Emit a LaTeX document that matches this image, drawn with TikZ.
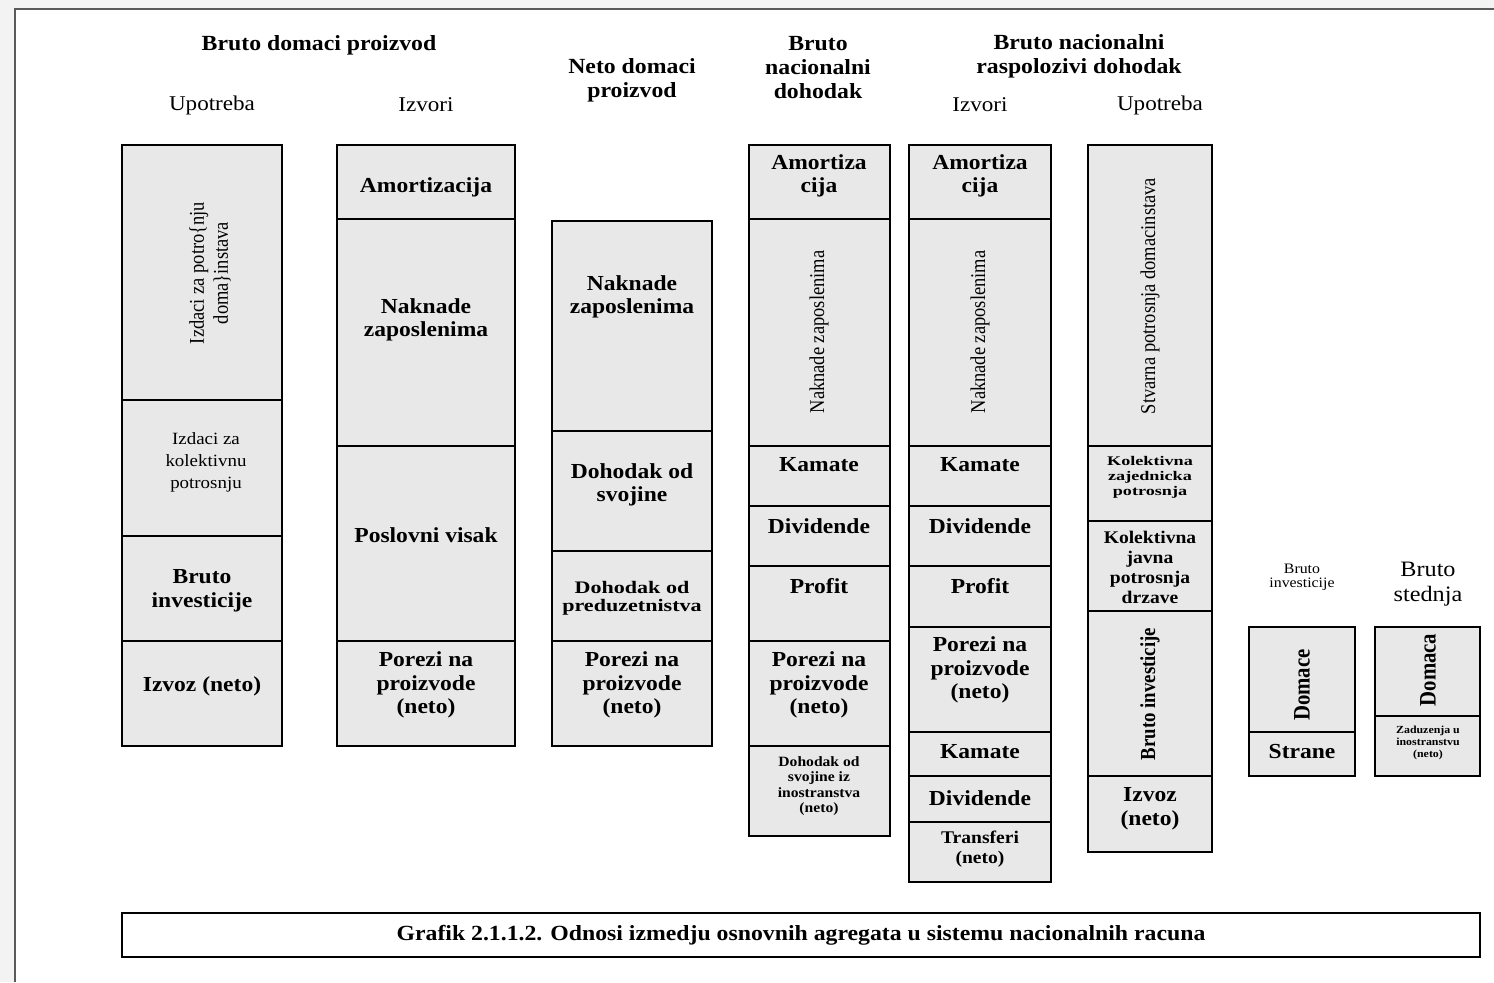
\documentclass[tikz,border=0pt]{standalone}
\usepackage{fontspec}
\setmainfont{Liberation Serif}[FakeStretch=1.1]
\newfontfamily\rotfont{Liberation Serif}[FakeStretch=0.88]
\definecolor{pagebg}{RGB}{243,243,243}
\definecolor{framec}{RGB}{90,90,90}
\definecolor{cellfill}{RGB}{232,232,232}
\tikzset{
  cellbox/.style={draw=black, fill=cellfill, line width=0.7pt, inner sep=0pt, outer sep=0pt},
  capbox/.style={draw=black, fill=white, line width=0.7pt, inner sep=0pt, outer sep=0pt},
  hdr/.style={font=\fontsize{10.8}{12}\selectfont\bfseries, align=center, inner sep=0pt},
  sub/.style={font=\fontsize{10.5}{12}\selectfont, align=center, inner sep=0pt},
  bt/.style={font=\fontsize{10.7}{11.8}\selectfont\bfseries, align=center, inner sep=0pt},
  btm/.style={font=\fontsize{8.9}{10}\selectfont\bfseries, align=center, inner sep=0pt},
  bts/.style={font=\fontsize{8.8}{9}\selectfont\bfseries, align=center, inner sep=0pt, xscale=1.14},
  btxs/.style={font=\fontsize{7.1}{7.8}\selectfont\bfseries, align=center, inner sep=0pt},
  btk/.style={font=\fontsize{6.6}{7.5}\selectfont\bfseries, align=center, inner sep=0pt, xscale=1.25},
  btxxs/.style={font=\fontsize{5.4}{6}\selectfont\bfseries, align=center, inner sep=0pt},
  rg/.style={font=\fontsize{8.6}{11}\selectfont, align=center, inner sep=0pt},
  rgs/.style={font=\fontsize{7.2}{7}\selectfont, align=center, inner sep=0pt},
  rgm/.style={font=\fontsize{11}{12.5}\selectfont, align=center, inner sep=0pt},
  rt/.style={rotate=90, font=\rotfont\fontsize{10.5}{12}\selectfont, align=center, inner sep=0pt},
  rtb/.style={rotate=90, font=\rotfont\fontsize{10.7}{12}\selectfont\bfseries, align=center, inner sep=0pt},
  rtbl/.style={rotate=90, font=\rotfont\fontsize{11.8}{12}\selectfont\bfseries, align=center, inner sep=0pt},
  capt/.style={font=\fontsize{10.8}{12}\selectfont\bfseries, inner sep=0pt}
}
\newcommand\mkbox[6][cellbox]{%
  \node[#1, minimum width={(#5-#3)*0.5pt}, minimum height={(#6-#4)*0.5pt}] (#2) at ({(#3+#5)/2},{(#4+#6)/2}) {};}
\begin{document}
\begin{tikzpicture}[x=0.5pt,y=-0.5pt]
\useasboundingbox (0,0) rectangle (1494,982);
\fill[pagebg] (0,0) rectangle (1494,982);
\fill[white] (15,9) rectangle (1494,982);
\coordinate (fa) at (15,982);
\coordinate (fb) at (15,9);
\coordinate (fc) at (1494,9);
\draw[framec, line width=1pt] (fa) -- (fb) -- (fc);

% headers
\node[hdr] (h1) at (319,45) {Bruto domaci proizvod};
\node[sub] (h1a) at (212,105) {Upotreba};
\node[sub] (h1b) at (426,105) {Izvori};
\node[hdr] (h2) at (632,80) {Neto domaci\\proizvod};
\node[hdr] (h3) at (818,68) {Bruto\\nacionalni\\dohodak};
\node[hdr] (h4) at (1079,56) {Bruto nacionalni\\raspolozivi dohodak};
\node[sub] (h4a) at (980,105) {Izvori};
\node[sub] (h4b) at (1160,105) {Upotreba};

% column 1
\mkbox{c1a}{122}{145}{282}{400}
\mkbox{c1b}{122}{400}{282}{536}
\mkbox{c1c}{122}{536}{282}{641}
\mkbox{c1d}{122}{641}{282}{746}
\node[rt] (t1a) at (210,273) {Izdaci za potro\{nju\\doma\}instava};
\node[rg] (t1b) at (206,462) {Izdaci za\\kolektivnu\\potrosnju};
\node[bt] (t1c) at (202,591) {Bruto\\investicije};
\node[bt] (t1d) at (202,686) {Izvoz (neto)};

% column 2
\mkbox{c2a}{337}{145}{515}{219}
\mkbox{c2b}{337}{219}{515}{446}
\mkbox{c2c}{337}{446}{515}{641}
\mkbox{c2d}{337}{641}{515}{746}
\node[bt] (t2a) at (426,187) {Amortizacija};
\node[bt] (t2b) at (426,320) {Naknade\\zaposlenima};
\node[bt] (t2c) at (426,535) {Poslovni visak};
\node[bt] (t2d) at (426,685) {Porezi na\\proizvode\\(neto)};

% column 3
\mkbox{c3a}{552}{221}{712}{431}
\mkbox{c3b}{552}{431}{712}{551}
\mkbox{c3c}{552}{551}{712}{641}
\mkbox{c3d}{552}{641}{712}{746}
\node[bt] (t3a) at (632,297) {Naknade\\zaposlenima};
\node[bt] (t3b) at (632,485) {Dohodak od\\svojine};
\node[bts] (t3c) at (632,598) {Dohodak od\\preduzetnistva};
\node[bt] (t3d) at (632,685) {Porezi na\\proizvode\\(neto)};

% column 4
\mkbox{c4a}{749}{145}{890}{219}
\mkbox{c4b}{749}{219}{890}{446}
\mkbox{c4c}{749}{446}{890}{506}
\mkbox{c4d}{749}{506}{890}{566}
\mkbox{c4e}{749}{566}{890}{641}
\mkbox{c4f}{749}{641}{890}{746}
\mkbox{c4g}{749}{746}{890}{836}
\node[bt] (t4a) at (819,176) {Amortiza\\cija};
\node[rt] (t4b) at (819,332) {Naknade zaposlenima};
\node[bt] (t4c) at (819,465) {Kamate};
\node[bt] (t4d) at (819,526) {Dividende};
\node[bt] (t4e) at (819,586) {Profit};
\node[bt] (t4f) at (819,685) {Porezi na\\proizvode\\(neto)};
\node[btxs] (t4g) at (819,786) {Dohodak od\\svojine iz\\inostranstva\\(neto)};

% column 5
\mkbox{c5a}{909}{145}{1051}{219}
\mkbox{c5b}{909}{219}{1051}{446}
\mkbox{c5c}{909}{446}{1051}{506}
\mkbox{c5d}{909}{506}{1051}{566}
\mkbox{c5e}{909}{566}{1051}{627}
\mkbox{c5f}{909}{627}{1051}{732}
\mkbox{c5g}{909}{732}{1051}{776}
\mkbox{c5h}{909}{776}{1051}{822}
\mkbox{c5i}{909}{822}{1051}{882}
\node[bt] (t5a) at (980,176) {Amortiza\\cija};
\node[rt] (t5b) at (980,332) {Naknade zaposlenima};
\node[bt] (t5c) at (980,465) {Kamate};
\node[bt] (t5d) at (980,526) {Dividende};
\node[bt] (t5e) at (980,586) {Profit};
\node[bt] (t5f) at (980,670) {Porezi na\\proizvode\\(neto)};
\node[bt] (t5g) at (980,752) {Kamate};
\node[bt] (t5h) at (980,798) {Dividende};
\node[btm] (t5i) at (980,849) {Transferi\\(neto)};

% column 6
\mkbox{c6a}{1088}{145}{1212}{446}
\mkbox{c6b}{1088}{446}{1212}{521}
\mkbox{c6c}{1088}{521}{1212}{611}
\mkbox{c6d}{1088}{611}{1212}{776}
\mkbox{c6e}{1088}{776}{1212}{852}
\node[rt] (t6a) at (1150,296) {Stvarna potrosnja domacinstava};
\node[btk] (t6b) at (1150,477) {Kolektivna\\zajednicka\\potrosnja};
\node[btm] (t6c) at (1150,567) {Kolektivna\\javna\\potrosnja\\drzave};
\node[rtb] (t6d) at (1150,694) {Bruto investicije};
\node[bt] (t6e) at (1150,809) {Izvoz\\(neto)};

% column 7
\node[rgs] (h7) at (1302,577) {Bruto\\investicije};
\mkbox{c7a}{1249}{627}{1355}{732}
\mkbox{c7b}{1249}{732}{1355}{776}
\node[rtbl] (t7a) at (1302,685) {Domace};
\node[bt] (t7b) at (1302,752) {Strane};

% column 8
\node[rgm] (h8) at (1428,584) {Bruto\\stednja};
\mkbox{c8a}{1375}{627}{1480}{716}
\mkbox{c8b}{1375}{716}{1480}{776}
\node[rtbl] (t8a) at (1428,670) {Domaca};
\node[btxxs] (t8b) at (1428,743) {Zaduzenja u\\inostranstvu\\(neto)};

% caption
\mkbox[capbox]{capb}{122}{913}{1480}{957}
\node[capt] (capt) at (801,935) {Grafik 2.1.1.2. Odnosi izmedju osnovnih agregata u sistemu nacionalnih racuna};
\end{tikzpicture}
\end{document}
